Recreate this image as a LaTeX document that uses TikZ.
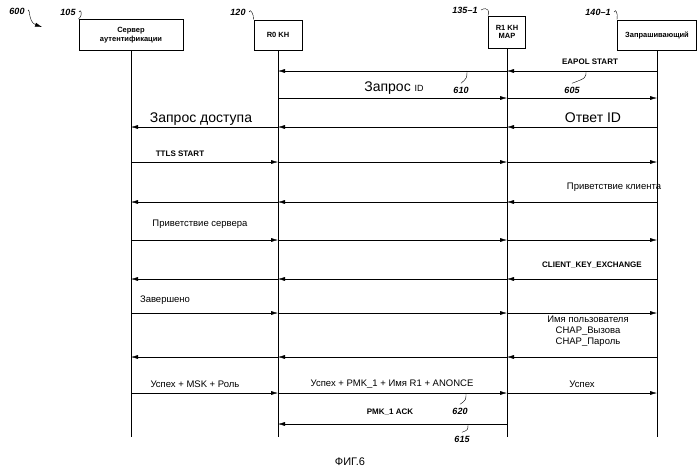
\documentclass[tikz,border=0pt]{standalone}
\usepackage{fontspec}
\setmainfont{Liberation Sans}
\usetikzlibrary{arrows.meta,positioning}
\begin{document}
\begin{tikzpicture}[x=1pt,y=-1pt,>={Latex[length=7pt,width=4pt]}]
  % Styles
  \tikzstyle{party}=[draw, line width=1pt, inner sep=1pt, font=\fontsize{7.5}{8.5}\selectfont\bfseries, align=center]
  \tikzstyle{msg}=[font=\fontsize{9.5}{11}\selectfont, align=center]
  \tikzstyle{big}=[font=\fontsize{14}{15}\selectfont]
  \tikzstyle{sml}=[font=\fontsize{8}{9}\selectfont\bfseries]
  \tikzstyle{ref}=[font=\fontsize{9}{10}\selectfont\bfseries\itshape]
  \useasboundingbox (0,0) rectangle (699,472);

  % Parties
  \node[party, minimum width=104pt, minimum height=31pt] (as) at (131,35) {Сервер\\аутентификации};
  \node[party, minimum width=48pt, minimum height=30pt] (r0) at (278,35) {R0 KH};
  \node[party, minimum width=37pt, minimum height=32pt] (r1) at (507,32) {R1 KH\\MAP};
  \node[party, minimum width=79pt, minimum height=30pt, inner sep=1pt] (sup) at (657,35) {Запрашивающий};

  \coordinate (as_e) at (131,437);
  \coordinate (r0_e) at (278,437);
  \coordinate (r1_e) at (507,437);
  \coordinate (sup_e) at (657,437);
  \foreach \p in {as,r0,r1,sup}
    \draw (\p.south) -- (\p_e);

  % Reference numerals
  \node[ref] (n105) at (68,12) {105};
  \draw (n105.east) .. controls (80,8) and (84,14) .. (as.north west);
  \node[ref] (n120) at (238,12) {120};
  \draw (n120.east) .. controls (250,8) and (254,14) .. (r0.north west);
  \node[ref] (n135) at (465,10) {135--1};
  \draw (n135.east) .. controls (488,6) and (490,12) .. (r1.north west);
  \node[ref] (n140) at (598,12) {140--1};
  \draw (n140.east) .. controls (616,8) and (618,14) .. (sup.north west);
  \node[ref] (n600) at (17,11) {600};
  \coordinate (a600) at (42,27);
  \draw[->] (n600.east) .. controls (30,6) and (28,22) .. (a600);

  % Messages
  \foreach \y in {71,127,202,279,357}{
    \draw[->] (657,\y) -- (507,\y);
    \draw[->] (507,\y) -- (278,\y);
  }
  \foreach \y in {127,202,279,357}
    \draw[->] (278,\y) -- (131,\y);
  \draw[->] (278,98) -- (507,98);
  \draw[->] (507,98) -- (657,98);
  \foreach \y in {162,240,313,393}{
    \draw[->] (131,\y) -- (278,\y);
    \draw[->] (278,\y) -- (507,\y);
    \draw[->] (507,\y) -- (657,\y);
  }
  \draw[->] (r1_e |- 0,424) -- (r0_e |- 0,424);

  % Labels
  \node[sml] at (590,62) {EAPOL START};
  \node[big] at (394,88) {Запрос \fontsize{9}{10}\selectfont ID};
  \node[ref] (n610) at (461,90) {610};
  \draw (n610.north) .. controls (467,78) .. (467,71);
  \node[ref] (n605) at (572,90) {605};
  \draw (n605.north) .. controls (586,78) .. (586,71);
  \node[big] at (201,119) {Запрос доступа};
  \node[big] at (593,118) {Ответ ID};
  \node[sml] at (180,154) {TTLS START};
  \node[msg] at (614,187) {Приветствие клиента};
  \node[msg] at (200,224) {Приветствие сервера};
  \node[sml] at (592,265) {CLIENT\_KEY\_EXCHANGE};
  \node[msg] at (165,300) {Завершено};
  \node[msg] at (588,331) {Имя пользователя\\CHAP\_Вызова\\CHAP\_Пароль};
  \node[msg] at (195,384) {Успех + MSK + Роль};
  \node[msg] at (392,384) {Успех + PMK\_1 + Имя R1 + ANONCE};
  \node[msg] at (582,384) {Успех};
  \node[sml] at (390,412) {PMK\_1 ACK};
  \node[ref] (n620) at (460,411) {620};
  \draw (n620.north) .. controls (466,400) .. (466,393);
  \node[ref] (n615) at (462,439) {615};
  \draw (n615.north) .. controls (468,430) .. (468,424);
  \node[font=\fontsize{11}{13}\selectfont] at (350,462) {ФИГ.6};
\end{tikzpicture}
\end{document}
